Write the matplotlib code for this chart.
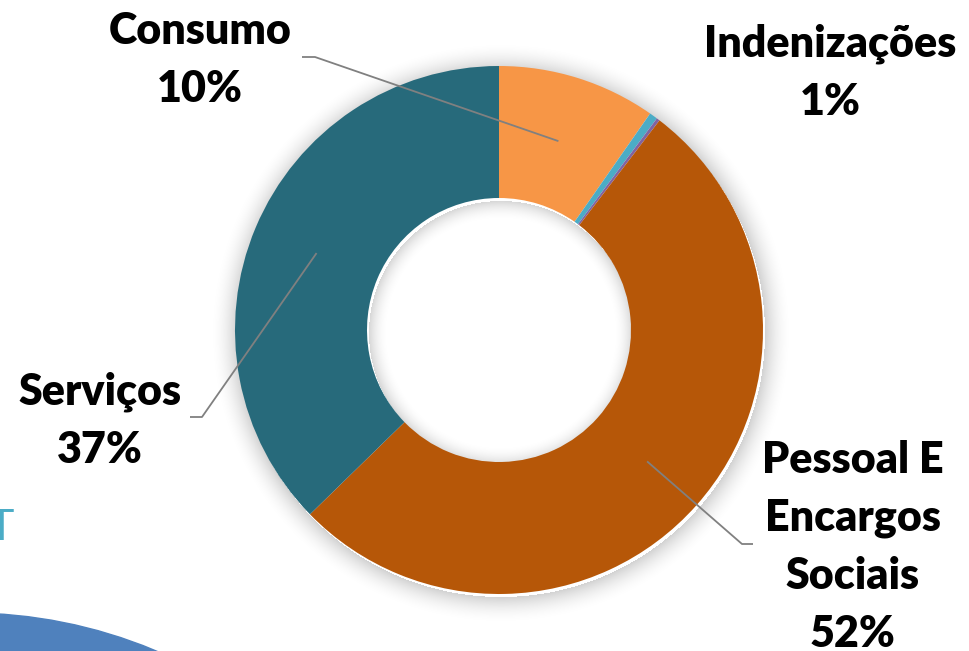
import numpy as np
import matplotlib
matplotlib.use("Agg")
import matplotlib.pyplot as plt
from matplotlib import patches

# --- data ---
categories = ["Consumo", "Indenizações", "Outros", "Pessoal E Encargos Sociais", "Serviços"]
shares = [9.7, 0.5, 0.2, 52.3, 37.3]
pct_labels = ["10%", "1%", "", "52%", "37%"]
colors = ["#F79646", "#4BACC6", "#8064A2", "#B65708", "#276A7B"]

W, H = 970, 651
CX, CY = 499, 330          # donut centre in pixel coords (y from top)
R_OUT, R_IN = 264, 132
FONT = "Lato"
FS = 31


def py(y):
    # pixel y (from top) -> data y
    return H - y


fig = plt.figure(figsize=(W / 100, H / 100), dpi=100)
ax = fig.add_axes([0, 0, 1, 1])

# soft shadow around the ring
xs, ys = np.meshgrid(np.arange(W) + 0.5, np.arange(H) + 0.5)
d = np.hypot(xs - (CX + 2), ys - (CY + 3))
out = np.clip(d - R_OUT, 0, None)
inn = np.clip(R_IN - d, 0, None)
alpha = np.where(d > R_OUT, 0.18 * np.clip(1 - out / 28, 0, 1) ** 2, 0)
alpha = np.where(d < R_IN, 0.16 * np.clip(1 - inn / 20, 0, 1) ** 2, alpha)
shadow = np.zeros((H, W, 4))
shadow[..., 3] = alpha
ax.imshow(shadow, extent=(0, W, 0, H), origin="upper", zorder=1)

wedges, _ = ax.pie(shares, colors=colors, startangle=90, counterclock=False,
                   radius=R_OUT, center=(CX, py(CY)),
                   wedgeprops=dict(width=R_OUT - R_IN, linewidth=0))
for w in wedges:
    w.set_zorder(2)

ax.set_xlim(0, W)
ax.set_ylim(0, H)
ax.set_aspect("equal")
ax.axis("off")

# slide remnants behind the chart
ax.add_patch(patches.Circle((-32, py(1099)), 486, color="#4F81BD", zorder=0))
ax.text(1, py(540), "T", color="#4BACC6", fontsize=FS, family=FONT,
        ha="center", va="baseline", zorder=0)

# labels: (index, text lines, centre x, first baseline y, leader elbow, leader end)
label_specs = [
    (0, ["Consumo"], 200, 44, (315, 57), (302, 57)),
    (1, ["Indenizações"], 830, 57, None, None),
    (3, ["Pessoal E", "Encargos", "Sociais"], 853, 473, (742, 544), (753, 544)),
    (4, ["Serviços"], 100, 405, (202, 417), (190, 417)),
]
LINE_GAP = 58
r_mid = (R_OUT + R_IN) / 2
for idx, lines, tx, ty, elbow, end in label_specs:
    all_lines = lines + [pct_labels[idx]]
    for k, line in enumerate(all_lines):
        ax.text(tx, py(ty + k * LINE_GAP), line, fontsize=FS, family=FONT,
                fontweight="heavy", ha="center", va="baseline", color="black",
                zorder=4)
    if elbow is not None:
        w = wedges[idx]
        ang = np.deg2rad((w.theta1 + w.theta2) / 2)
        sx = CX + r_mid * np.cos(ang)
        sy = py(CY) + r_mid * np.sin(ang)
        ax.plot([sx, elbow[0], end[0]], [sy, py(elbow[1]), py(end[1])],
                color="#808080", linewidth=1.3, zorder=3,
                solid_capstyle="butt")

fig.savefig("out.png", dpi=100, facecolor="white")
